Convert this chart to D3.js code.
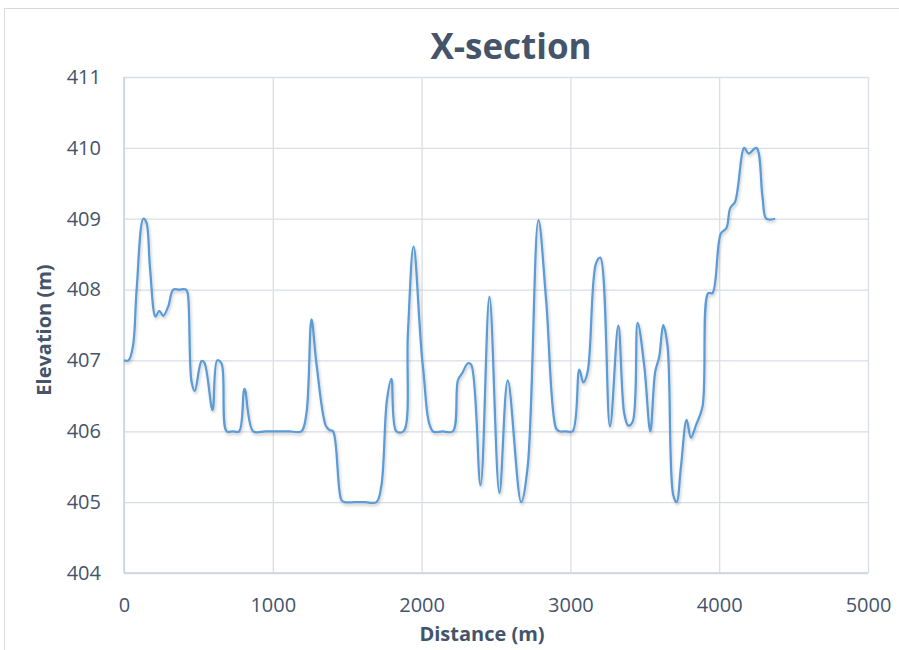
<!DOCTYPE html>
<html>
<head>
<meta charset="utf-8">
<script src="https://cdn.jsdelivr.net/npm/d3@7"></script>
<style>
  html, body { margin: 0; padding: 0; background: #ffffff; }
  svg { display: block; }
  text { font-family: "Open Sans", "Noto Sans", sans-serif; }
</style>
</head>
<body>
<svg id="chart" width="899" height="650"></svg>
<script>
const distance = [0, 30, 60, 85, 130, 150, 175, 212, 237, 264, 297, 331, 370, 416, 428, 454, 476, 521, 540, 595, 626, 655, 689, 730, 774, 810, 868, 950, 1030, 1110, 1192, 1226, 1260, 1293, 1356, 1380, 1405, 1461, 1483, 1550, 1620, 1696, 1729, 1767, 1797, 1830, 1879, 1908, 1946, 2009, 2076, 2140, 2210, 2244, 2273, 2311, 2333, 2396, 2456, 2523, 2579, 2669, 2713, 2785, 2837, 2904, 2926, 2970, 3015, 3060, 3087, 3116, 3172, 3201, 3266, 3322, 3362, 3389, 3418, 3452, 3497, 3537, 3570, 3597, 3624, 3653, 3691, 3714, 3743, 3781, 3810, 3843, 3888, 3926, 3955, 4011, 4049, 4074, 4107, 4168, 4197, 4250, 4291, 4317, 4376];
const elevation = [407.0, 407.0, 407.2, 408.0, 409.0, 408.95, 408.3, 407.62, 407.70, 407.63, 407.76, 408.0, 408.0, 408.0, 407.95, 406.70, 406.57, 406.99, 406.97, 406.30, 407.0, 406.96, 406.0, 406.0, 406.0, 406.60, 406.0, 406.0, 406.0, 406.0, 406.0, 406.25, 407.58, 406.96, 406.08, 406.02, 406.0, 405.03, 405.0, 405.0, 405.0, 405.0, 405.22, 406.44, 406.74, 406.0, 406.0, 407.38, 408.61, 406.91, 406.0, 406.0, 406.0, 406.72, 406.82, 406.96, 406.94, 405.24, 407.9, 405.13, 406.72, 405.0, 405.5, 408.98, 407.85, 406.04, 406.0, 406.0, 406.0, 406.87, 406.69, 406.84, 408.37, 408.45, 406.07, 407.49, 406.25, 406.08, 406.13, 407.53, 406.91, 406.0, 406.84, 407.05, 407.5, 407.2, 405.1, 405.0, 405.5, 406.16, 405.91, 406.08, 406.35, 407.95, 407.95, 408.79, 408.87, 409.15, 409.24, 410.0, 409.92, 410.0, 409.31, 409.0, 409.0];
const xTicks = [0, 1000, 2000, 3000, 4000, 5000];
const yTicks = [404, 405, 406, 407, 408, 409, 410, 411];
const titleText = "X-section";
const xTitle = "Distance (m)";
const yTitle = "Elevation (m)";

const svg = d3.select("#chart");
const mLeft = 124, mRight = 868, mTop = 77, mBottom = 573;
const textColor = "#44546a";
const gridColor = "#d9dee6";

const x = d3.scaleLinear().domain([0, 5000]).range([mLeft, mRight]);
const y = d3.scaleLinear().domain([404, 411]).range([mBottom, mTop]);

// chart border
svg.append("rect").attr("x", 4.5).attr("y", 8.5).attr("width", 1000).attr("height", 1000)
  .attr("fill", "none").attr("stroke", "#d9d9d9").attr("stroke-width", 1);

// shadow filter
const defs = svg.append("defs");
const f = defs.append("filter").attr("id", "shadow").attr("x", "-5%").attr("y", "-5%").attr("width", "110%").attr("height", "120%");
f.append("feDropShadow").attr("dx", 1).attr("dy", 2).attr("stdDeviation", 1.5)
  .attr("flood-color", "#000").attr("flood-opacity", 0.22);

// gridlines + ticks
const xAxisG = svg.append("g").attr("transform", `translate(0,${mBottom})`)
  .call(d3.axisBottom(x).tickValues(xTicks).tickSize(-(mBottom - mTop)).tickPadding(18).tickFormat(d3.format("d")));
xAxisG.select(".domain").remove();
xAxisG.selectAll("line").attr("stroke", gridColor).attr("stroke-width", 1.3);
xAxisG.selectAll("text").attr("fill", textColor).attr("font-size", 20)
  .attr("font-family", "'Open Sans', sans-serif").attr("dy", "0.7em").attr("y", 25);

const yAxisG = svg.append("g").attr("transform", `translate(${mLeft},0)`)
  .call(d3.axisLeft(y).tickValues(yTicks).tickSize(-(mRight - mLeft)).tickPadding(23).tickFormat(d3.format("d")));
yAxisG.select(".domain").remove();
yAxisG.selectAll("line").attr("stroke", gridColor).attr("stroke-width", 1.3);
yAxisG.selectAll("text").attr("fill", textColor).attr("font-size", 20)
  .attr("font-family", "'Open Sans', sans-serif");

// axis lines
svg.append("line").attr("x1", mLeft).attr("x2", mLeft).attr("y1", mTop).attr("y2", mBottom)
  .attr("stroke", "#ccd3dc").attr("stroke-width", 1.5);
svg.append("line").attr("x1", mLeft).attr("x2", mRight).attr("y1", mBottom).attr("y2", mBottom)
  .attr("stroke", "#ccd3dc").attr("stroke-width", 1.5);

// data line
const pts = distance.map((d, i) => [d, elevation[i]]);
const line = d3.line().x(d => x(d[0])).y(d => y(d[1])).curve(d3.curveCatmullRom.alpha(0.5));
svg.append("path").datum(pts).attr("d", line)
  .attr("fill", "none").attr("stroke", "#5b9bd5").attr("stroke-width", 2.25)
  .attr("stroke-linejoin", "round").attr("filter", "url(#shadow)");

// title
svg.append("text").attr("x", 511).attr("y", 59).attr("text-anchor", "middle")
  .attr("font-size", 35).attr("font-weight", "bold").attr("fill", textColor).text(titleText);

// axis titles
svg.append("text").attr("x", 482).attr("y", 641).attr("text-anchor", "middle")
  .attr("font-size", 20).attr("font-weight", "bold").attr("fill", textColor).text(xTitle);
svg.append("text").attr("transform", "translate(51,330) rotate(-90)").attr("text-anchor", "middle")
  .attr("font-size", 20).attr("font-weight", "bold").attr("fill", textColor).text(yTitle);
</script>
</body>
</html>
